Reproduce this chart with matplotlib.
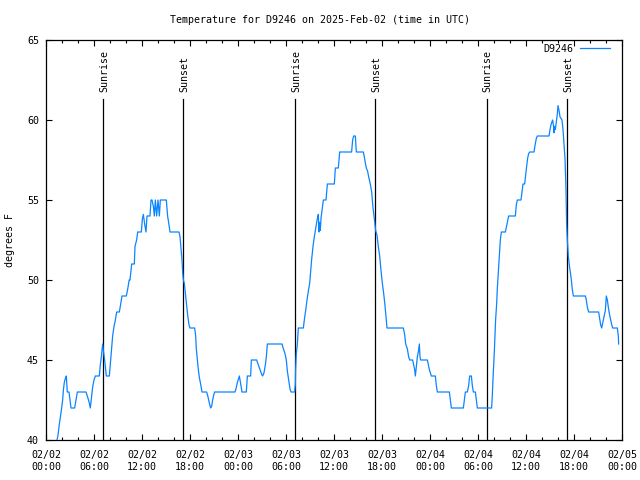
import matplotlib
matplotlib.use("Agg")
import matplotlib.pyplot as plt
from matplotlib.ticker import MultipleLocator

# Hours since 2025-02-02 00:00 UTC
hours = [
    1.375, 1.5, 1.67, 1.875, 2.08, 2.17, 2.29, 2.42, 2.54, 2.62, 2.66, 2.875, 3.0, 3.125, 3.58, 3.75, 3.92,
    5.0, 5.2, 5.42, 5.54, 5.67, 5.83, 6.0, 6.17, 6.67, 6.79, 6.92, 7.08, 7.17, 7.33, 7.46, 7.54, 7.92,
    8.08, 8.2, 8.33, 8.5, 8.67, 8.83, 9.17, 9.33, 9.5, 10.04, 10.2, 10.4, 10.5, 10.71, 11.04, 11.125,
    11.33, 11.46, 11.92, 12.04, 12.17, 12.33, 12.5, 12.625, 13.0, 13.125, 13.25, 13.42, 13.54, 13.67,
    13.83, 14.0, 14.17, 14.29, 15.04, 15.2, 15.33, 15.5, 16.625, 16.75, 16.875, 17.0, 17.08, 17.17,
    17.29, 17.42, 17.58, 17.71, 17.875, 18.0, 18.58, 18.71, 18.79, 18.92, 19.04, 19.17, 19.33, 19.5,
    20.08, 20.25, 20.42, 20.58, 20.71, 20.83, 20.96, 21.08, 23.625, 23.75, 23.92, 24.17, 24.25, 24.375,
    24.5, 25.04, 25.17, 25.58, 25.67, 26.33, 26.54, 26.75, 26.96, 27.08, 27.25, 27.42, 27.54, 27.67,
    29.5, 29.67, 29.875, 30.04, 30.17, 30.33, 30.5, 30.625, 31.08, 31.17, 31.2, 31.29, 31.42, 31.54,
    32.17, 32.29, 32.46, 32.625, 32.79, 32.96, 33.08, 33.2, 33.375, 33.54, 33.67, 33.79, 33.92, 34.04,
    34.125, 34.2, 34.29, 34.375, 34.54, 34.67, 35.0, 35.17, 36.04, 36.17, 36.54, 36.71, 38.2, 38.33,
    38.46, 38.67, 38.79, 39.67, 39.79, 39.92, 40.04, 40.2, 40.375, 40.54, 40.71, 40.875, 41.04, 41.2,
    41.375, 41.54, 41.71, 41.875, 42.04, 42.2, 42.375, 42.5, 42.625, 44.67, 44.83, 44.96, 45.17, 45.33,
    45.46, 45.83, 45.96, 46.08, 46.17, 46.29, 46.42, 46.54, 46.67, 46.75, 46.83, 47.67, 47.79, 47.92,
    48.04, 48.17, 48.67, 48.79, 48.92, 50.42, 50.54, 50.67, 52.17, 52.29, 52.42, 52.67, 52.83, 52.96,
    53.17, 53.29, 53.42, 53.67, 53.79, 53.92, 55.7, 55.79, 55.92, 56.04, 56.125, 56.2, 56.33, 56.42,
    56.54, 56.67, 56.79, 56.92, 57.42, 57.54, 57.67, 57.83, 58.67, 58.79, 58.92, 59.375, 59.5, 59.625,
    59.83, 59.96, 60.08, 60.2, 60.33, 60.46, 61.0, 61.125, 61.29, 61.42, 62.875, 63.0, 63.125, 63.25,
    63.33, 63.42, 63.5, 63.58, 63.67, 63.79, 63.92, 64.0, 64.125, 64.25, 64.375, 64.5, 64.625, 64.75,
    64.875, 65.0, 65.08, 65.17, 65.29, 65.42, 65.54, 65.67, 65.79, 65.92, 67.42, 67.54, 67.67, 67.83,
    69.08, 69.2, 69.33, 69.46, 69.58, 69.75, 69.92, 70.04, 70.17, 70.29, 70.42, 70.54, 70.67, 70.83,
    71.42, 71.54, 71.58,
]
temps = [
    40.0, 40.3, 41.0, 41.7, 42.5, 43.1, 43.6, 43.85, 44.0, 43.4, 43.0, 43.0, 42.5, 42.0, 42.0, 42.5, 43.0,
    43.0, 42.7, 42.3, 42.0, 42.6, 43.3, 43.75, 44.0, 44.0, 44.7, 45.2, 46.0, 45.6, 45.0, 44.4, 44.0, 44.0,
    45.0, 45.8, 46.5, 47.1, 47.5, 48.0, 48.0, 48.5, 49.0, 49.0, 49.4, 50.0, 50.0, 51.0, 51.0, 52.1,
    52.5, 53.0, 53.0, 53.8, 54.1, 53.5, 53.0, 54.0, 54.0, 55.0, 55.0, 54.6, 54.0, 55.0,
    54.0, 55.0, 54.0, 55.0, 55.0, 54.0, 53.6, 53.0, 53.0, 52.7, 52.0, 51.25, 50.5, 50.0,
    49.8, 49.2, 48.5, 47.8, 47.2, 47.0, 47.0, 46.5, 45.7, 45.0, 44.4, 43.9, 43.5, 43.0,
    43.0, 42.7, 42.3, 42.0, 42.1, 42.5, 42.8, 43.0, 43.0, 43.2, 43.6, 44.0, 43.75, 43.4,
    43.0, 43.0, 44.0, 44.0, 45.0, 45.0, 44.7, 44.4, 44.1, 44.0, 44.2, 44.7, 45.2, 46.0,
    46.0, 45.7, 45.4, 45.0, 44.3, 43.75, 43.2, 43.0, 43.0, 43.5, 44.4, 45.4, 46.0, 47.0,
    47.0, 47.5, 48.1, 48.75, 49.3, 49.8, 50.5, 51.25, 52.1, 52.7, 53.1, 53.5, 53.85, 54.1,
    53.0, 53.6, 53.1, 53.85, 54.5, 55.0, 55.0, 56.0, 56.0, 57.0, 57.0, 58.0, 58.0, 58.75,
    59.0, 59.0, 58.0, 58.0, 57.7, 57.3, 57.0, 56.8, 56.35, 56.0, 55.5, 54.5, 53.85, 53.1,
    52.8, 52.1, 51.5, 50.6, 49.8, 49.2, 48.4, 47.7, 47.0, 47.0, 46.6, 46.0, 45.7, 45.2,
    45.0, 45.0, 44.7, 44.4, 44.0, 44.6, 45.2, 45.5, 46.0, 45.2, 45.0, 45.0, 44.7, 44.4,
    44.2, 44.0, 44.0, 43.4, 43.0, 43.0, 42.5, 42.0, 42.0, 42.5, 43.0, 43.0, 43.4, 44.0,
    44.0, 43.4, 43.0, 43.0, 42.5, 42.0, 42.0, 42.8, 44.3, 45.5, 46.5, 47.5, 48.5, 49.5,
    50.5, 51.5, 52.5, 53.0, 53.0, 53.3, 53.6, 54.0, 54.0, 54.7, 55.0, 55.0, 55.5, 56.0,
    56.0, 56.6, 57.1, 57.6, 57.9, 58.0, 58.0, 58.4, 58.85, 59.0, 59.0, 59.4, 59.7, 59.9,
    60.0, 59.7, 59.2, 59.6, 59.4, 59.9, 60.4, 60.9, 60.6, 60.2, 60.1, 60.0, 59.4, 58.5,
    57.6, 55.6, 53.5, 52.5, 51.5, 50.9, 50.5, 50.0, 49.4, 49.0, 49.0, 48.75, 48.3, 48.0,
    48.0, 47.6, 47.2, 47.0, 47.3, 47.7, 48.1, 49.0, 48.75, 48.3, 47.9, 47.6, 47.3, 47.0,
    47.0, 46.5, 46.0,
]

sun_times = [7.17, 17.17, 31.15, 41.17, 55.08, 65.17]
sun_labels = ["Sunrise", "Sunset", "Sunrise", "Sunset", "Sunrise", "Sunset"]

xtick_hours = [0, 6, 12, 18, 24, 30, 36, 42, 48, 54, 60, 66, 72]
xtick_labels = ["02/02\n00:00", "02/02\n06:00", "02/02\n12:00", "02/02\n18:00",
                "02/03\n00:00", "02/03\n06:00", "02/03\n12:00", "02/03\n18:00",
                "02/04\n00:00", "02/04\n06:00", "02/04\n12:00", "02/04\n18:00",
                "02/05\n00:00"]

FONT = "DejaVu Sans Mono"
FS = 7.2

fig = plt.figure(figsize=(6.4, 4.8), dpi=100)
ax = fig.add_axes([46/640, 40/480, 576/640, 400/480])

ax.plot(hours, temps, color="#0a84ff", lw=0.9, label="D9246", zorder=3)

for t, lab in zip(sun_times, sun_labels):
    ax.plot([t, t], [40, 61.3], color="black", lw=0.9, zorder=2)
    ax.text(t + 0.1, 61.75, lab, rotation=90, ha="center", va="bottom",
            fontsize=FS, family=FONT)

ax.set_xlim(0, 72)
ax.set_ylim(40, 65)
ax.set_xticks(xtick_hours)
ax.set_xticklabels(xtick_labels, fontsize=FS, family=FONT, linespacing=1.3)
ax.xaxis.set_minor_locator(MultipleLocator(2))
ax.yaxis.set_major_locator(MultipleLocator(5))
for lab in ax.get_yticklabels():
    lab.set_fontsize(FS)
    lab.set_family(FONT)

ax.tick_params(axis="both", which="major", direction="in", length=4.5, width=0.8,
               top=True, right=True, pad=7)
ax.tick_params(axis="both", which="minor", direction="in", length=2.5, width=0.8,
               top=True, right=True)
ax.tick_params(axis="y", which="major", pad=5)
for s in ax.spines.values():
    s.set_linewidth(0.9)

fig.text(10/640, 0.5, "degrees F", rotation=90, ha="center", va="center",
         fontsize=FS, family=FONT)
fig.text(0.5, 1 - 20/480, "Temperature for D9246 on 2025-Feb-02 (time in UTC)",
         ha="center", va="center", fontsize=FS, family=FONT)

leg = ax.legend(loc="upper right", bbox_to_anchor=((610-46)/576, (440-44)/400),
                frameon=False, markerfirst=False, handlelength=3.0,
                borderpad=0, borderaxespad=0, handletextpad=0.7,
                prop={"family": FONT, "size": FS})

fig.savefig("out.png", dpi=100)
